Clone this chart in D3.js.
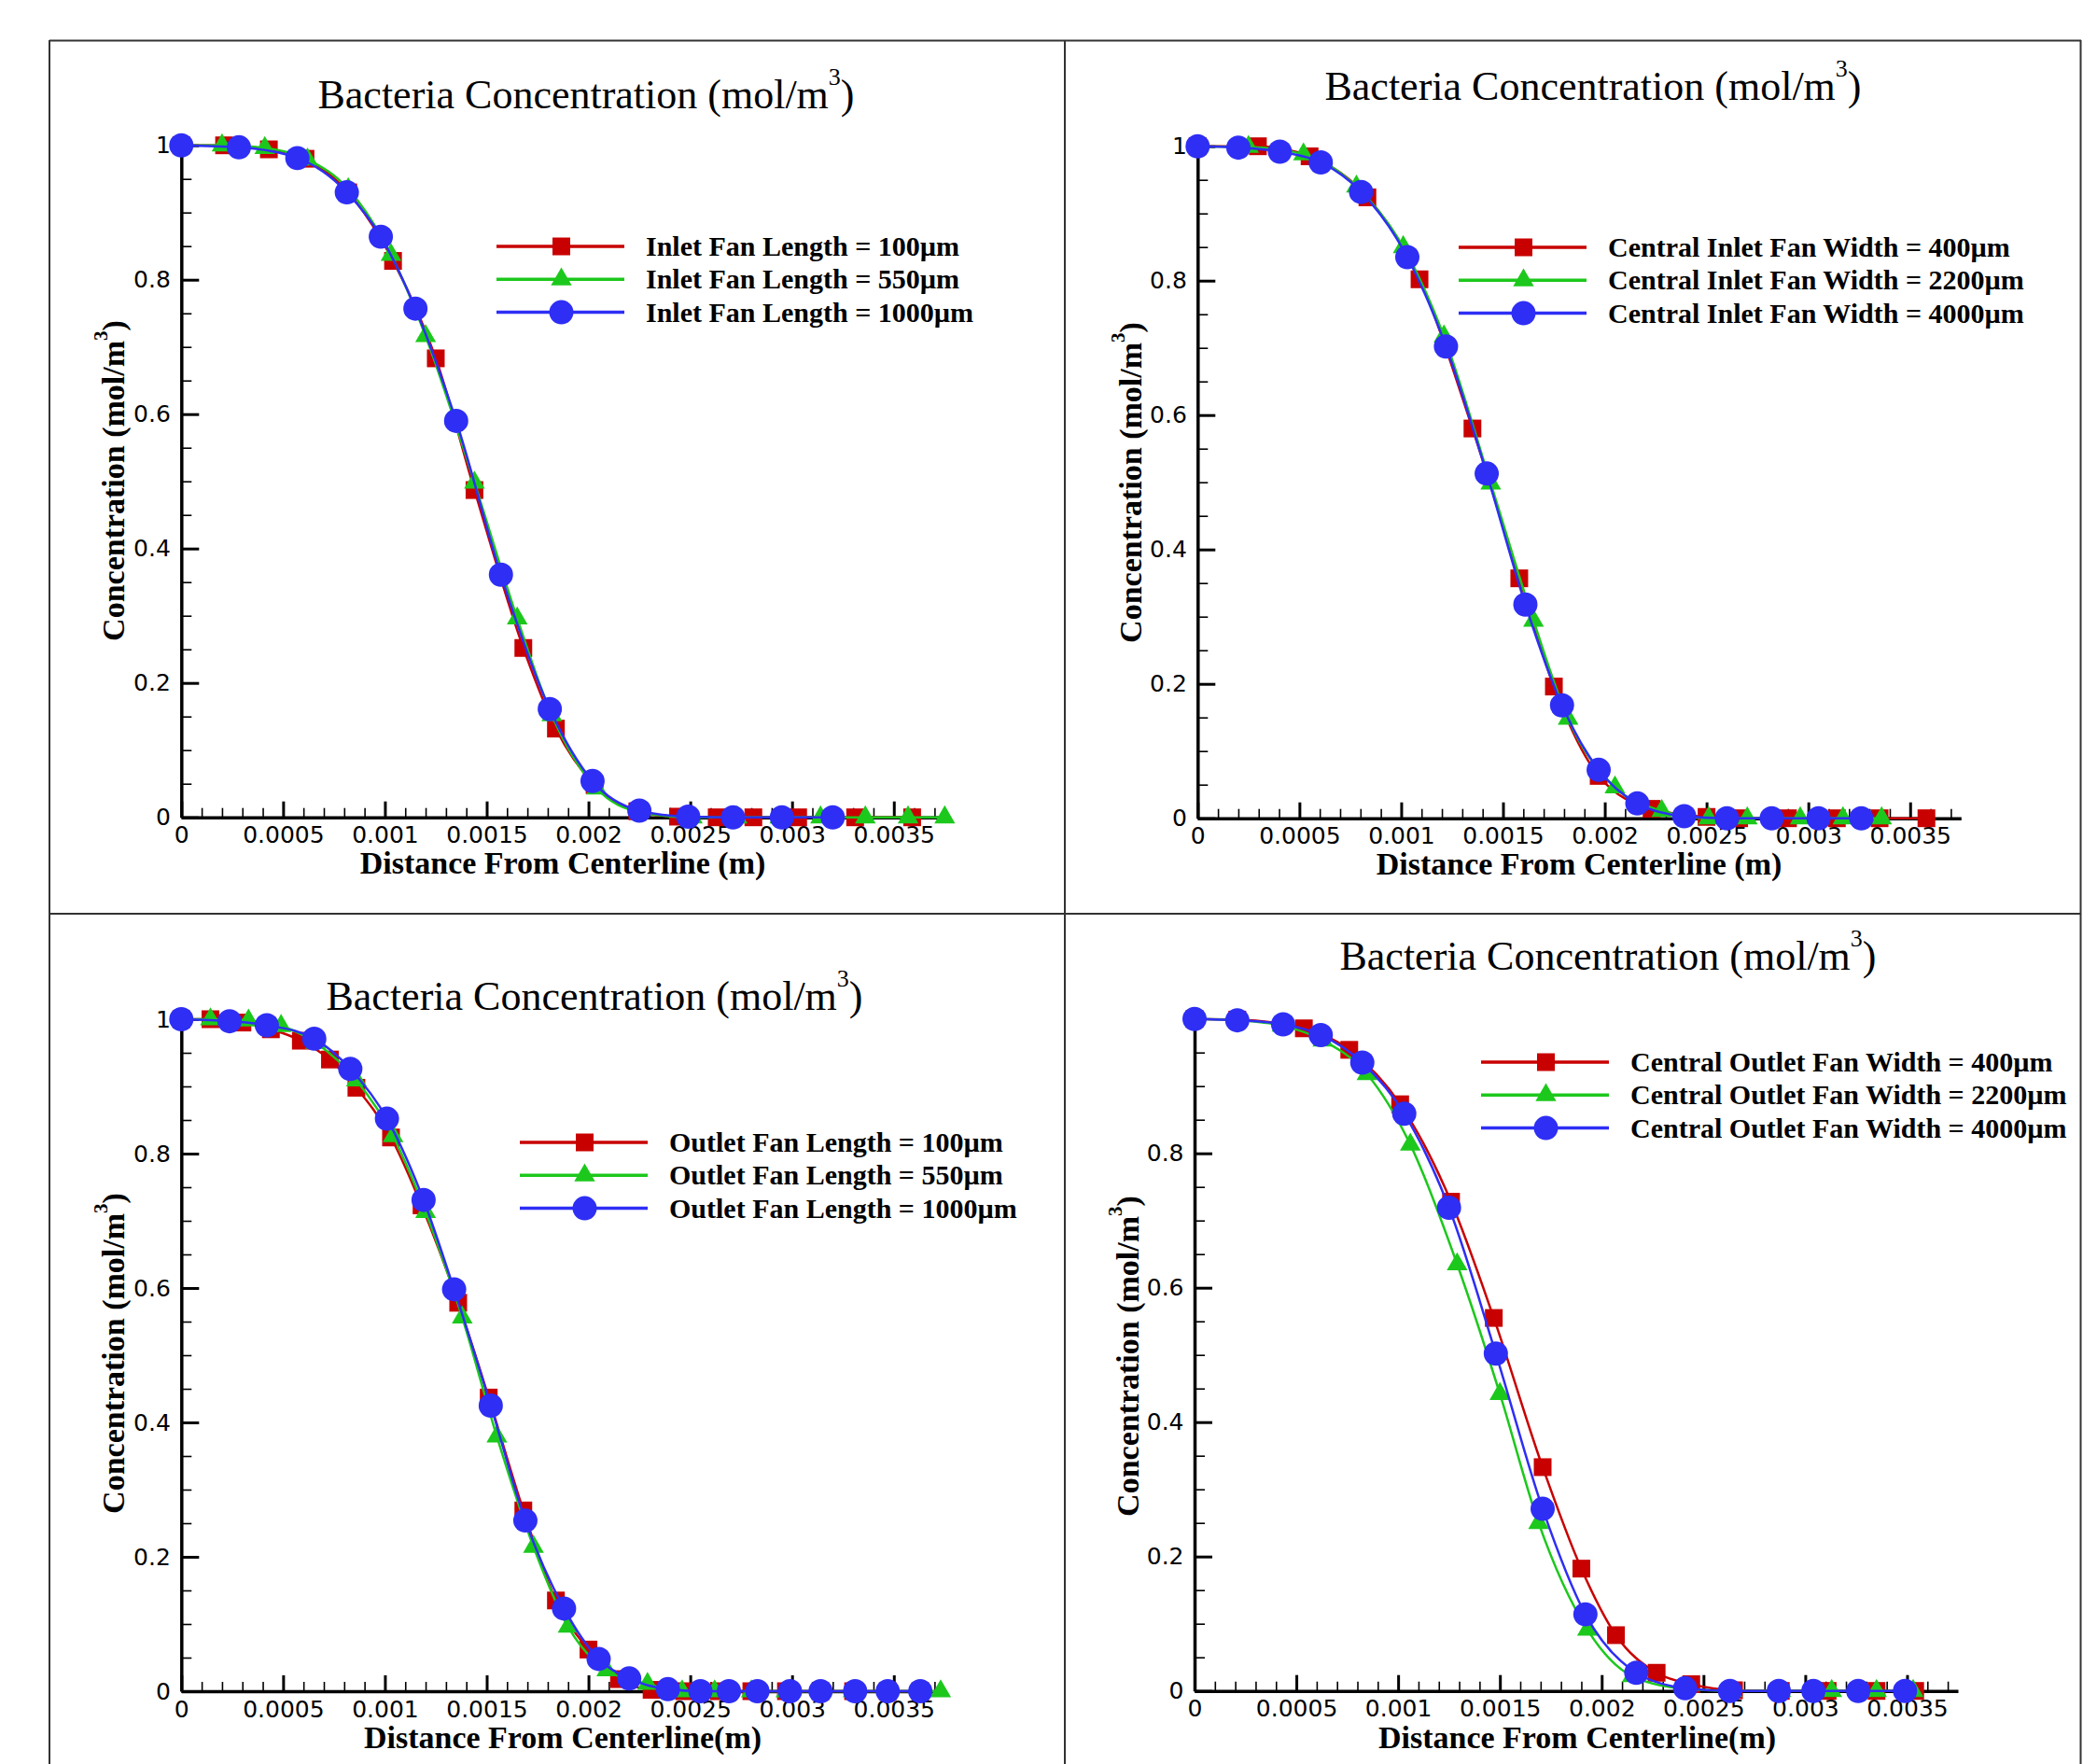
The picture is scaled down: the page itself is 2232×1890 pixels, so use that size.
<!DOCTYPE html>
<html>
<head>
<meta charset="utf-8">
<script src="https://cdn.jsdelivr.net/npm/d3@7"></script>
<style>
body { margin: 0; background: #fff; }
svg { display: block; }
</style>
</head>
<body>
<svg id="chart" width="2232" height="1890"></svg>
<script>
// tick values and labels
const xTickValues = [0, 0.0005, 0.001, 0.0015, 0.002, 0.0025, 0.003, 0.0035];
const xTickLabels = ["0", "0.0005", "0.001", "0.0015", "0.002", "0.0025", "0.003", "0.0035"];
const yTickValues = [0, 0.2, 0.4, 0.6, 0.8, 1];
const yTickLabels = ["0", "0.2", "0.4", "0.6", "0.8", "1"];

// legend names
const inletLengthNames = ["Inlet Fan Length = 100\u00b5m", "Inlet Fan Length = 550\u00b5m", "Inlet Fan Length = 1000\u00b5m"];
const inletWidthNames = ["Central Inlet Fan Width = 400\u00b5m", "Central Inlet Fan Width = 2200\u00b5m", "Central Inlet Fan Width = 4000\u00b5m"];
const outletLengthNames = ["Outlet Fan Length = 100\u00b5m", "Outlet Fan Length = 550\u00b5m", "Outlet Fan Length = 1000\u00b5m"];
const outletWidthNames = ["Central Outlet Fan Width = 400\u00b5m", "Central Outlet Fan Width = 2200\u00b5m", "Central Outlet Fan Width = 4000\u00b5m"];

// [distance (m), concentration]
const inletLength100 = [[0,1],[0.00021,1],[0.00043,0.994],[0.00061,0.98],[0.00082,0.93],[0.00104,0.828],[0.00125,0.683],[0.00144,0.487],[0.00168,0.252],[0.00184,0.132],[0.00203,0.048],[0.00224,0.009],[0.00244,0.001],[0.00263,0],[0.00281,0],[0.00303,0],[0.00331,0],[0.00359,0]];
const inletLength550 = [[0,1],[0.0002,1],[0.00041,0.996],[0.00062,0.979],[0.00082,0.935],[0.00103,0.837],[0.0012,0.716],[0.00144,0.498],[0.00165,0.296],[0.00182,0.152],[0.00204,0.043],[0.00225,0.008],[0.00251,0],[0.00273,0],[0.00294,0],[0.00314,0],[0.00336,0],[0.00357,0],[0.00375,0]];
const inletLength1000 = [[0,1],[0.000283,0.997],[0.00057,0.981],[0.000813,0.93],[0.00098,0.864],[0.00115,0.757],[0.00135,0.59],[0.00157,0.361],[0.00181,0.161],[0.00202,0.054],[0.00225,0.01],[0.00249,0.001],[0.00271,0],[0.00295,0],[0.0032,0]];

const inletWidth400 = [[0,1],[0.000296,1],[0.00055,0.985],[0.000834,0.924],[0.00109,0.802],[0.00135,0.58],[0.00158,0.357],[0.00175,0.196],[0.00197,0.063],[0.00223,0.014],[0.0025,0.002],[0.00266,0],[0.0029,0],[0.00314,0],[0.00335,0],[0.00358,0]];
const inletWidth2200 = [[0,1],[0.00025,0.999],[0.00052,0.988],[0.00078,0.94],[0.00101,0.85],[0.00121,0.717],[0.00144,0.498],[0.00165,0.294],[0.00182,0.148],[0.00205,0.046],[0.00228,0.011],[0.00251,0],[0.0027,0],[0.00296,0],[0.00317,0],[0.00336,0]];
const inletWidth4000 = [[0,1],[0.0002,0.998],[0.000404,0.992],[0.000605,0.976],[0.000803,0.932],[0.00103,0.835],[0.00122,0.702],[0.00142,0.513],[0.00161,0.318],[0.00179,0.168],[0.00197,0.072],[0.00216,0.022],[0.00239,0.003],[0.0026,0],[0.00282,0],[0.00305,0],[0.00326,0]];

const outletLength100 = [[0,1],[0.000143,1],[0.0003,0.995],[0.00044,0.985],[0.000587,0.968],[0.00073,0.94],[0.00086,0.898],[0.00103,0.824],[0.00118,0.723],[0.00136,0.578],[0.00151,0.437],[0.00168,0.269],[0.00184,0.135],[0.002,0.062],[0.00215,0.018],[0.00231,0.002],[0.00247,0],[0.00264,0],[0.0028,0],[0.00297,0],[0.00314,0],[0.0033,0],[0.00347,0],[0.00363,0]];
const outletLength550 = [[0,1],[0.000143,1],[0.00033,0.998],[0.00049,0.99],[0.00066,0.965],[0.00086,0.909],[0.00104,0.826],[0.0012,0.713],[0.00138,0.556],[0.00155,0.379],[0.00173,0.215],[0.0019,0.096],[0.00209,0.031],[0.00229,0.011],[0.00246,0],[0.00262,0],[0.0028,0],[0.00297,0],[0.00314,0],[0.0033,0],[0.00347,0],[0.00363,0],[0.00373,0]];
const outletLength1000 = [[0,1],[0.000237,0.997],[0.00042,0.991],[0.000653,0.971],[0.00083,0.926],[0.00101,0.852],[0.00119,0.731],[0.00134,0.598],[0.00152,0.425],[0.00169,0.254],[0.00188,0.123],[0.00205,0.048],[0.0022,0.019],[0.00239,0.003],[0.00255,0],[0.00269,0],[0.00283,0],[0.00299,0],[0.00314,0],[0.00331,0],[0.00347,0],[0.00363,0]];

const outletWidth400 = [[0,1],[0.00021,0.999],[0.000537,0.986],[0.00076,0.954],[0.00101,0.873],[0.00126,0.728],[0.00147,0.555],[0.00171,0.333],[0.0019,0.182],[0.00207,0.083],[0.00227,0.027],[0.00244,0.01],[0.00265,0.001],[0.00288,0],[0.00311,0],[0.00335,0],[0.00354,0]];
const outletWidth2200 = [[0,1],[0.00021,0.998],[0.00043,0.99],[0.00063,0.968],[0.000847,0.918],[0.00106,0.813],[0.00129,0.635],[0.0015,0.442],[0.00169,0.25],[0.00193,0.091],[0.00215,0.022],[0.00241,0.003],[0.00264,0],[0.00288,0],[0.00313,0],[0.00335,0],[0.00353,0]];
const outletWidth4000 = [[0,1],[0.00021,0.998],[0.000435,0.992],[0.00062,0.976],[0.000824,0.935],[0.00103,0.859],[0.00125,0.719],[0.00148,0.502],[0.00171,0.271],[0.00192,0.114],[0.00217,0.027],[0.00241,0.004],[0.00263,0],[0.00287,0],[0.00304,0],[0.00326,0],[0.00349,0]];

const seriesColors = ["#c80000", "#1cc81c", "#2e2ef5"];
const seriesSymbols = [d3.symbolSquare, d3.symbolTriangle, d3.symbolCircle];
const symbolSizes = [361, 215, 530];

var svg = d3.select("#chart");
var serif = "'Liberation Serif', 'Times New Roman', serif";
var sans = "'DejaVu Sans', Arial, sans-serif";

// panel frame lines
var frameColor = "#333";
[[53, 43.5, 2230, 43.5], [53, 979, 2230, 979], [53, 43, 53, 1890], [1141, 43, 1141, 1890], [2229.5, 43, 2229.5, 1890]]
  .forEach(function(l) {
    svg.append("line").attr("x1", l[0]).attr("y1", l[1]).attr("x2", l[2]).attr("y2", l[3])
      .attr("stroke", frameColor).attr("stroke-width", 2);
  });

var panels = [
  {x0: 194.3, y0: 875.7, series: [inletLength100, inletLength550, inletLength1000], names: inletLengthNames,
   titleX: 628, titleY: 116, xLabel: "Distance From Centerline (m)", xLabelX: 603, xLabelY: 936,
   yLabelX: 133, yLabelY: 515, legX: 532, legY: 264, topLabel: true},
  {x0: 1283.3, y0: 876.7, series: [inletWidth400, inletWidth2200, inletWidth4000], names: inletWidthNames,
   titleX: 1707, titleY: 107, xLabel: "Distance From Centerline (m)", xLabelX: 1692, xLabelY: 937,
   yLabelX: 1223, yLabelY: 517, legX: 1563, legY: 265, topLabel: true},
  {x0: 194.3, y0: 1812, series: [outletLength100, outletLength550, outletLength1000], names: outletLengthNames,
   titleX: 637, titleY: 1082, xLabel: "Distance From Centerline(m)", xLabelX: 603, xLabelY: 1873,
   yLabelX: 133, yLabelY: 1450, legX: 557, legY: 1224, topLabel: true},
  {x0: 1280, y0: 1811.7, series: [outletWidth400, outletWidth2200, outletWidth4000], names: outletWidthNames,
   titleX: 1723, titleY: 1039, xLabel: "Distance From Centerline(m)", xLabelX: 1690, xLabelY: 1873,
   yLabelX: 1220, yLabelY: 1453, legX: 1587, legY: 1138, topLabel: false}
];

var plotWidth = 818;
var plotHeight = 720;
var minorX = d3.range(1, 38).map(function(i) { return i * 0.0001; }).filter(function(v, i) { return (i + 1) % 5 != 0; });
var minorY = d3.range(1, 20).map(function(i) { return i * 0.05; }).filter(function(v, i) { return (i + 1) % 4 != 0; });

function drawPanel(p) {
  var g = svg.append("g").attr("transform", `translate(${p.x0}, ${p.y0 - plotHeight})`);

  var xScale = d3.scaleLinear().domain([0, 0.00375]).range([0, plotWidth]);
  var yScale = d3.scaleLinear().domain([0, 1]).range([plotHeight, 0]);

  var yMajor = p.topLabel ? yTickValues : yTickValues.slice(0, 5);

  // minor ticks
  g.append("g").attr("transform", `translate(0, ${plotHeight})`)
    .call(d3.axisBottom(xScale).tickValues(minorX).tickSize(-10).tickFormat(""))
    .call(function(a) { a.select(".domain").remove(); a.selectAll("line").attr("stroke-width", 1.6); });
  g.append("g")
    .call(d3.axisLeft(yScale).tickValues(minorY).tickSize(-11).tickFormat(""))
    .call(function(a) { a.select(".domain").remove(); a.selectAll("line").attr("stroke-width", 1.6); });

  // major ticks
  g.append("g").attr("transform", `translate(0, ${plotHeight})`)
    .call(d3.axisBottom(xScale).tickValues(xTickValues).tickSize(-17).tickSizeOuter(0).tickPadding(10)
      .tickFormat(function(d, i) { return xTickLabels[i]; }))
    .call(function(a) {
      a.select(".domain").attr("stroke-width", 3.5);
      a.selectAll(".tick line").attr("stroke-width", 3);
      a.selectAll("text").attr("font-family", sans).attr("font-size", 25).attr("fill", "#000");
    });
  g.append("g")
    .call(d3.axisLeft(yScale).tickValues(yMajor).tickSize(-19).tickSizeOuter(0).tickPadding(11.5)
      .tickFormat(function(d, i) { return yTickLabels[i]; }))
    .call(function(a) {
      a.select(".domain").attr("stroke-width", 3.5);
      a.selectAll(".tick line").attr("stroke-width", 3);
      a.selectAll("text").attr("font-family", sans).attr("font-size", 25).attr("fill", "#000");
    });

  // curves and markers
  var valueline = d3.line()
    .x(function(d) { return xScale(d[0]); })
    .y(function(d) { return yScale(d[1]); })
    .curve(d3.curveMonotoneX);

  p.series.forEach(function(data, k) {
    g.append("path")
      .datum(data)
      .attr("fill", "none")
      .attr("stroke", seriesColors[k])
      .attr("stroke-width", 2.5)
      .attr("d", valueline);
    g.selectAll(".m" + k)
      .data(data)
      .enter().append("path")
      .attr("class", "m" + k)
      .attr("transform", function(d) { return `translate(${xScale(d[0])}, ${yScale(d[1])})`; })
      .attr("d", d3.symbol().type(seriesSymbols[k]).size(symbolSizes[k]))
      .attr("fill", seriesColors[k]);
  });

  // title
  var title = svg.append("text")
    .attr("x", p.titleX).attr("y", p.titleY)
    .attr("text-anchor", "middle")
    .attr("font-family", serif).attr("font-size", 44).attr("fill", "#000");
  title.append("tspan").text("Bacteria Concentration (mol/m");
  title.append("tspan").attr("dy", -25).attr("font-size", 26).text("3");
  title.append("tspan").attr("dy", 25).text(")");

  // axis titles
  svg.append("text")
    .attr("x", p.xLabelX).attr("y", p.xLabelY)
    .attr("text-anchor", "middle")
    .attr("font-family", serif).attr("font-size", 34).attr("font-weight", "bold")
    .text(p.xLabel);

  var yl = svg.append("text")
    .attr("transform", `translate(${p.yLabelX}, ${p.yLabelY}) rotate(-90)`)
    .attr("text-anchor", "middle")
    .attr("font-family", serif).attr("font-size", 34).attr("font-weight", "bold");
  yl.append("tspan").text("Concentration (mol/m");
  yl.append("tspan").attr("dy", -18).attr("font-size", 21).text("3");
  yl.append("tspan").attr("dy", 18).text(")");

  // legend
  p.names.forEach(function(name, k) {
    var ly = p.legY + k * 35.3;
    svg.append("line")
      .attr("x1", p.legX).attr("x2", p.legX + 137)
      .attr("y1", ly).attr("y2", ly)
      .attr("stroke", seriesColors[k]).attr("stroke-width", 3.5);
    svg.append("path")
      .attr("transform", `translate(${p.legX + 69.5}, ${ly})`)
      .attr("d", d3.symbol().type(seriesSymbols[k]).size(symbolSizes[k]))
      .attr("fill", seriesColors[k]);
    svg.append("text")
      .attr("x", p.legX + 160).attr("y", ly + 10)
      .attr("font-family", serif).attr("font-size", 30).attr("font-weight", "bold")
      .text(name);
  });
}

panels.forEach(drawPanel);
</script>
</body>
</html>
